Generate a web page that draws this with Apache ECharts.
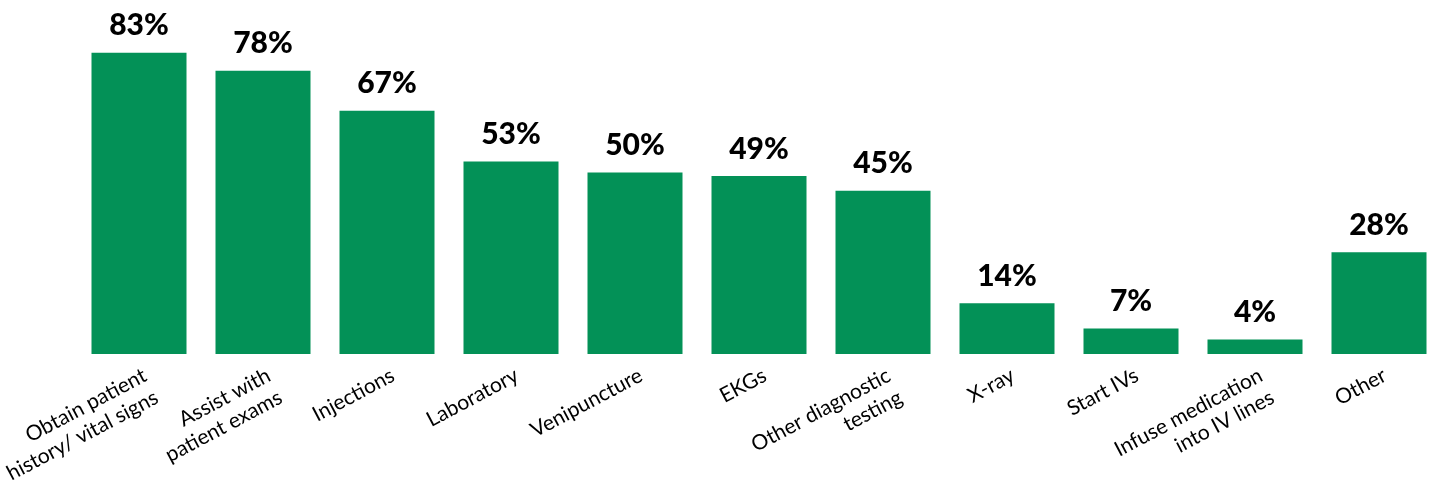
<!DOCTYPE html>
<html>
<head>
<meta charset="utf-8">
<script src="https://cdn.jsdelivr.net/npm/echarts@6/dist/echarts.min.js"></script>
<style>
  html, body { margin: 0; padding: 0; background: #fff; }
  #main { width: 1429px; height: 484px; }
</style>
</head>
<body>
<div id="main"></div>
<script>
// categories and values
var categories = [
  'Obtain patient\nhistory/ vital signs',
  'Assist with\npatient exams',
  'Injections',
  'Laboratory',
  'Venipuncture',
  'EKGs',
  'Other diagnostic\ntesting',
  'X-ray',
  'Start IVs',
  'Infuse medication\ninto IV lines',
  'Other'
];
var values = [83, 78, 67, 53, 50, 49, 45, 14, 7, 4, 28];

var myChart = echarts.init(document.getElementById('main'));
var option = {
  backgroundColor: '#ffffff',
  animation: false,
  grid: {
    left: 77,
    width: 1364,
    top: 20,
    bottom: 130,
    containLabel: false,
    outerBoundsMode: 'none'
  },
  xAxis: {
    type: 'category',
    data: categories,
    axisLine: { show: false },
    axisTick: { show: false },
    axisLabel: {
      interval: 0,
      rotate: 28,
      margin: 9,
      verticalAlign: 'top',
      color: '#000',
      fontFamily: 'Lato',
      fontSize: 21,
      lineHeight: 25
    }
  },
  yAxis: {
    type: 'value',
    min: 0,
    max: 92,
    show: false,
    splitLine: { show: false }
  },
  series: [{
    type: 'bar',
    data: values,
    barWidth: 95,
    itemStyle: { color: '#039157' },
    label: {
      show: true,
      position: 'top',
      distance: 12,
      formatter: '{c}%',
      color: '#000',
      fontFamily: 'Lato',
      fontWeight: 900,
      fontSize: 30
    }
  }]
};
myChart.setOption(option);
</script>
</body>
</html>
